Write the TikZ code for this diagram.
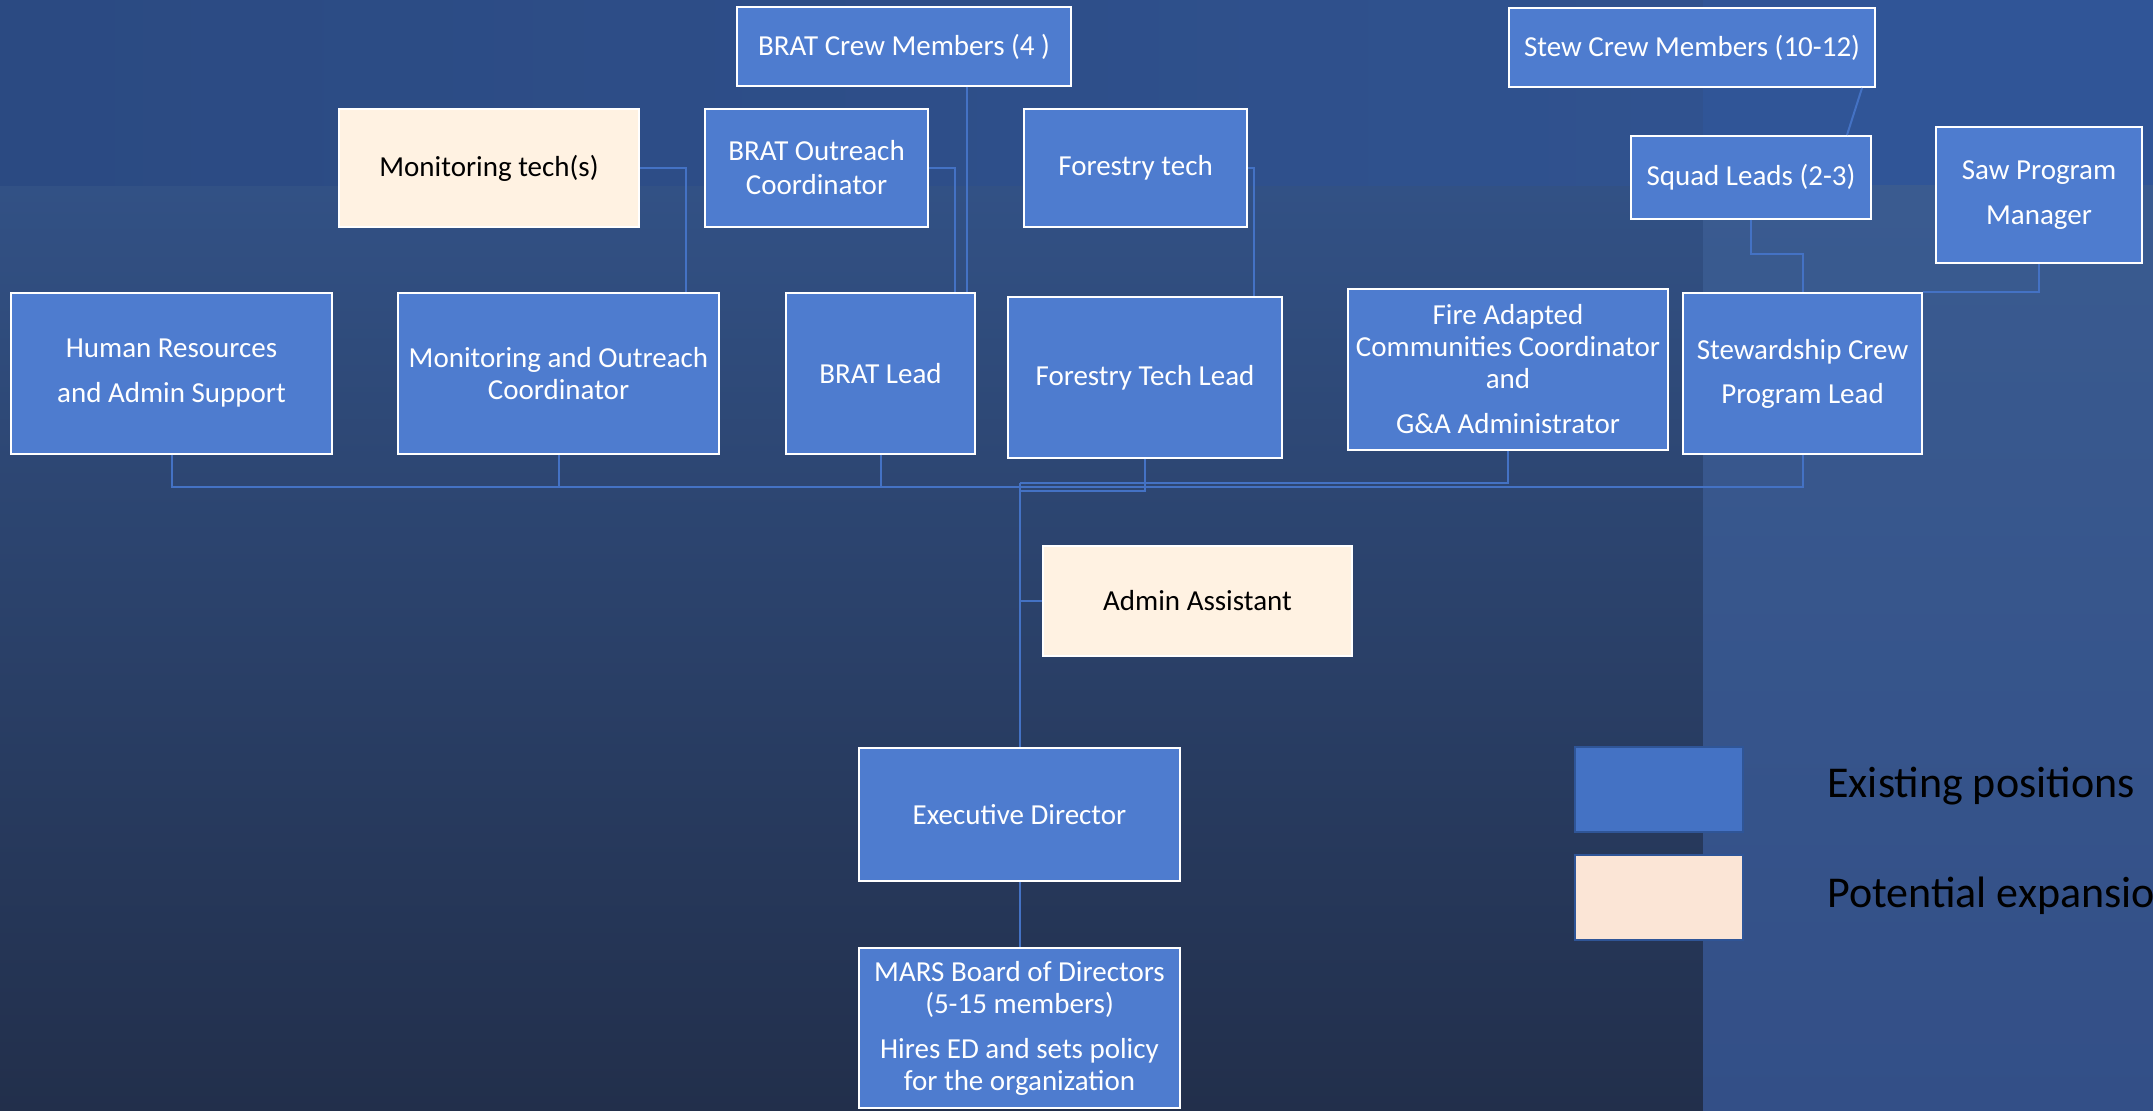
\documentclass[tikz,border=0pt]{standalone}
\usepackage{fontspec}
\setmainfont{Carlito}
\definecolor{BoxClr}{rgb}{0.306,0.486,0.812}
\definecolor{NewClr}{rgb}{1,0.949,0.886}
\definecolor{LinkClr}{rgb}{0.267,0.447,0.769}
\definecolor{KeyClr}{rgb}{0.267,0.447,0.769}
\definecolor{KeyNewClr}{rgb}{0.984,0.898,0.839}
\definecolor{KeyEdgeClr}{rgb}{0.184,0.333,0.592}
\definecolor{BgTopClr}{rgb}{0.196,0.318,0.522}
\definecolor{BgBotClr}{rgb}{0.133,0.184,0.294}
\definecolor{BandLeftClr}{rgb}{0.169,0.29,0.51}
\definecolor{BandRightClr}{rgb}{0.188,0.322,0.561}
\definecolor{CornerClr}{rgb}{0.188,0.333,0.592}
\definecolor{PanelTopClr}{rgb}{0.227,0.357,0.565}
\definecolor{PanelBotClr}{rgb}{0.2,0.31,0.53}

\begin{document}
\begin{tikzpicture}[x=0.5pt,y=-0.5pt,
  oldbox/.style={draw=white,line width=1pt,fill=BoxClr,text=white,align=center,inner sep=1pt,font=\fontsize{14.5}{16}\selectfont},
  newbox/.style={oldbox,fill=NewClr,text=black},
  link/.style={draw=LinkClr,line width=1pt},
  keybox/.style={draw=KeyEdgeClr,line width=1pt,minimum width=84pt,minimum height=42.5pt},
  keytext/.style={anchor=base west,inner sep=0pt,font=\fontsize{22}{26}\selectfont}]

\useasboundingbox (0,0) rectangle (2153,1111);
\fill[top color=BgTopClr,bottom color=BgBotClr] (0,186) rectangle (2153,1111);
\fill[left color=BandLeftClr,right color=BandRightClr] (0,0) rectangle (1703,186);
\fill[CornerClr] (1703,0) rectangle (2153,186);
\fill[top color=PanelTopClr,bottom color=PanelBotClr] (1703,186) rectangle (2153,1111);

\node[oldbox,minimum width=167pt,minimum height=39.5pt] (BCM) at (904,46.5) {BRAT Crew Members (4 )};
\node[newbox,minimum width=150pt,minimum height=59pt] (MT) at (489,168) {Monitoring tech(s)};
\node[oldbox,minimum width=111.5pt,minimum height=59pt] (BOC) at (816.5,168) {BRAT Outreach\\[1pt]Coordinator};
\node[oldbox,minimum width=111.5pt,minimum height=59pt] (FT) at (1135.5,168) {Forestry tech};
\node[oldbox,minimum width=183pt,minimum height=39.5pt] (SCM) at (1692,47.5) {Stew Crew Members (10-12)};
\node[oldbox,minimum width=120pt,minimum height=41.5pt] (SQ) at (1751,177.5) {Squad Leads (2-3)};
\node[oldbox,minimum width=103pt,minimum height=68pt] (SAW) at (2039,195) {Saw Program\\[6.5pt]Manager};

\node[oldbox,minimum width=160.5pt,minimum height=80.5pt] (HR) at (171.5,373.5) {Human Resources\\[6.5pt]and Admin Support};
\node[oldbox,minimum width=160.5pt,minimum height=80.5pt] (MOC) at (558.5,373.5) {Monitoring and Outreach\\Coordinator};
\node[oldbox,minimum width=94.5pt,minimum height=80.5pt] (BL) at (880.5,373.5) {BRAT Lead};
\node[oldbox,minimum width=137pt,minimum height=80.5pt] (FTL) at (1145,377.5) {Forestry Tech Lead};
\node[oldbox,minimum width=160pt,minimum height=80.5pt] (FAC) at (1508,369.5) {Fire Adapted\\Communities Coordinator\\and\\[6.5pt]G\&A Administrator};
\node[oldbox,minimum width=119.5pt,minimum height=80.5pt] (SPL) at (1802.5,373.5) {Stewardship Crew\\[6pt]Program Lead};

\node[newbox,minimum width=154.5pt,minimum height=55pt] (AA) at (1197.5,601) {Admin Assistant};
\node[oldbox,minimum width=160.5pt,minimum height=66.5pt] (ED) at (1019.5,814.5) {Executive Director};
\node[oldbox,minimum width=160.5pt,minimum height=80pt] (MB) at (1019.5,1028) {MARS Board of Directors\\(5-15 members)\\[6.5pt]Hires ED and sets policy\\for the organization};

\coordinate (MTk) at (686,0);
\coordinate (BOk) at (955,0);
\coordinate (BCk) at (967,0);
\coordinate (FTk) at (1254,0);
\coordinate (SCk) at (1862,0);
\coordinate (SQk) at (1847,0);
\coordinate (busA) at (0,483);
\coordinate (busM) at (0,487);
\coordinate (busF) at (0,491);

\draw[link] (MT.east) -| (MTk |- MOC.north);
\draw[link] (BOC.east) -| (BOk |- BL.north);
\draw[link] (BCk |- BCM.south) -- (BCk |- BL.north);
\draw[link] (FT.east) -| (FTk |- FTL.north);
\draw[link] (SCk |- SCM.south) -- (SQk |- SQ.north);
\draw[link] (SQ.south) -- ++(0,34) -| (SPL.north);
\draw[link] (SAW.south) |- (SPL.north east);

\draw[link] (HR.south) |- (ED.north |- busM);
\draw[link] (MOC.south) |- (ED.north |- busM);
\draw[link] (BL.south) |- (ED.north |- busM);
\draw[link] (SPL.south) |- (ED.north |- busM);
\draw[link] (FTL.south) |- (ED.north |- busF);
\draw[link] (FAC.south) |- (ED.north |- busA);
\draw[link] (ED.north |- busA) -- (ED.north);
\draw[link] (AA.west) -- (AA.west -| ED.north);
\draw[link] (ED.south) -- (MB.north);

\node[keybox,fill=KeyClr] (KE) at (1659,789.5) {};
\node[keybox,fill=KeyNewClr] (KP) at (1659,897.5) {};
\node[keytext] (KEt) at (1827,798) {Existing positions};
\node[keytext] (KPt) at (1827,907) {Potential expansion};

\end{tikzpicture}
\end{document}
